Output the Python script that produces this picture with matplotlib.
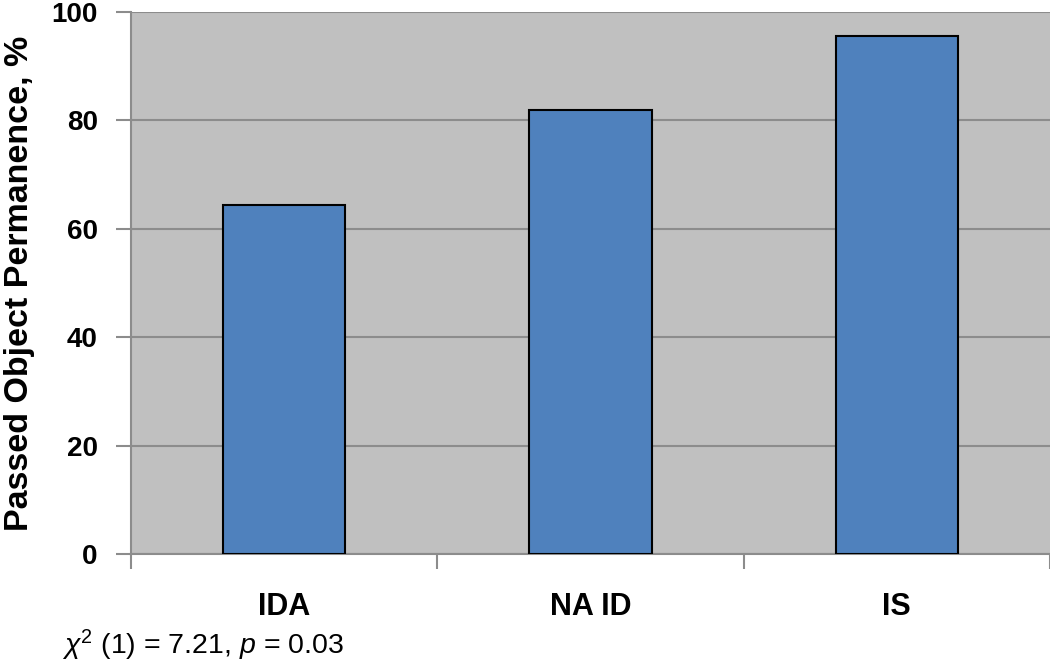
import matplotlib.pyplot as plt

plt.rcParams['font.family'] = ['Liberation Sans', 'DejaVu Sans']
plt.rcParams['mathtext.fontset'] = 'custom'
plt.rcParams['mathtext.rm'] = 'Liberation Sans'
plt.rcParams['mathtext.it'] = 'Liberation Sans:italic'

groups = ['IDA', 'NA ID', 'IS']
passed = [64.3, 82.0, 95.5]
yticks = [0, 20, 40, 60, 80, 100]

fig = plt.figure(figsize=(10.5, 6.65), dpi=100)
ax = fig.add_axes([0.1248, 0.1669, 0.8752, 0.8151])
ax.set_facecolor('#c0c0c0')

x = range(len(groups))
ax.bar(x, passed, width=0.4, color='#4f81bd', edgecolor='black', linewidth=1.5, zorder=3)

ax.set_xlim(-0.5, len(groups) - 0.5)
ax.set_ylim(0, 100)
ax.set_yticks(yticks)
ax.set_yticklabels([str(v) for v in yticks], fontsize=20, fontweight='bold')
ax.yaxis.grid(True, color='#8c8c8c', linewidth=1.5, zorder=0)
ax.set_axisbelow(True)

ax.set_xticks(list(x))
ax.set_xticklabels(groups, fontsize=22, fontweight='bold')
ax.tick_params(axis='x', length=0, pad=27.5)
ax.set_xticks([i - 0.5 for i in range(len(groups) + 1)], minor=True)
ax.tick_params(axis='x', which='minor', length=11, width=1.5, color='#8c8c8c')
ax.tick_params(axis='y', length=11, width=1.5, color='#8c8c8c', pad=13)

for s in ['top', 'right']:
    ax.spines[s].set_visible(False)
for s in ['left', 'bottom']:
    ax.spines[s].set_color('#8c8c8c')
    ax.spines[s].set_linewidth(1.5)

ax.set_ylabel('Passed Object Permanence, %', fontsize=24.5, fontweight='bold', labelpad=12)

fig.text(0.059, 0.030, r'$\chi^2$ (1) = 7.21, $p$ = 0.03', fontsize=20.5, va='center')

fig.savefig('out.png', dpi=100)
